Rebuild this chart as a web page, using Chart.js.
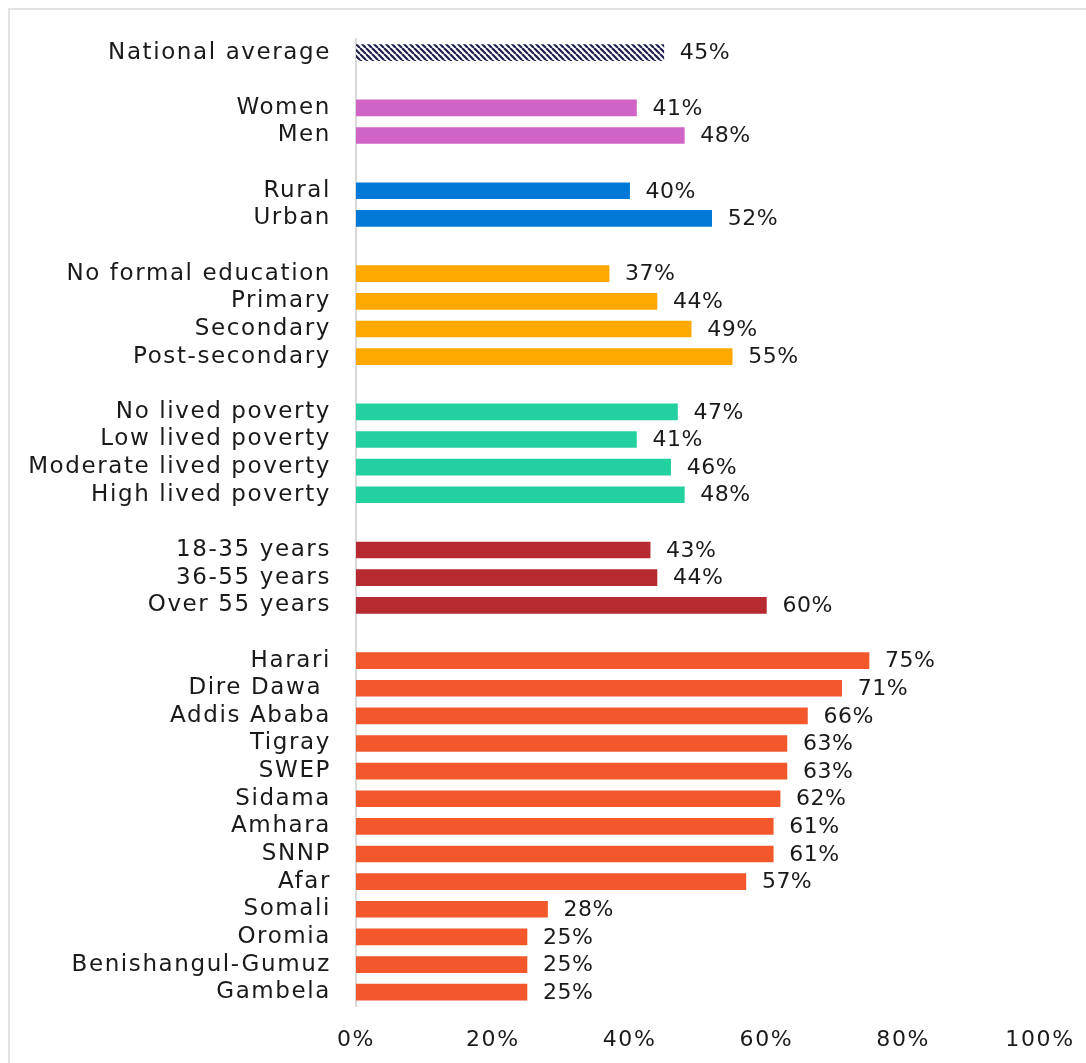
<!DOCTYPE html>
<html>
<head>
<meta charset="utf-8">
<script src="https://cdn.jsdelivr.net/npm/chart.js@4/dist/chart.umd.min.js"></script>
<style>
  html, body { margin: 0; padding: 0; background: #fff; overflow: hidden; }
  #frame { position: absolute; left: 8px; top: 8px; width: 1200px; height: 1200px; border: 2px solid #e2e2e2; }
  #myChart { position: absolute; left: 0; top: 0; }
</style>
</head>
<body>
<div id="frame"></div>
<canvas id="myChart" width="1086" height="1063"></canvas>
<script>
  // categories (blank entries are the gaps between groups)
  const labels = [
    "National average", "",
    "Women", "Men", "",
    "Rural", "Urban", "",
    "No formal education", "Primary", "Secondary", "Post-secondary", "",
    "No lived poverty", "Low lived poverty", "Moderate lived poverty", "High lived poverty", "",
    "18-35 years", "36-55 years", "Over 55 years", "",
    "Harari", "Dire Dawa ", "Addis Ababa", "Tigray", "SWEP", "Sidama", "Amhara",
    "SNNP", "Afar", "Somali", "Oromia", "Benishangul-Gumuz", "Gambela",
  ];
  const values = [
    45, null,
    41, 48, null,
    40, 52, null,
    37, 44, 49, 55, null,
    47, 41, 46, 48, null,
    43, 44, 60, null,
    75, 71, 66, 63, 63, 62, 61, 61, 57, 28, 25, 25, 25,
  ];
  const groups = [
    "avg", "",
    "gender", "gender", "",
    "loc", "loc", "",
    "edu", "edu", "edu", "edu", "",
    "pov", "pov", "pov", "pov", "",
    "age", "age", "age", "",
    "reg", "reg", "reg", "reg", "reg", "reg", "reg", "reg", "reg", "reg", "reg", "reg", "reg",
  ];
  const xTicks = [0, 20, 40, 60, 80, 100];

  // striped fill for the national average
  function stripes() {
    const c = document.createElement("canvas");
    c.width = 6; c.height = 6;
    const g = c.getContext("2d");
    g.fillStyle = "#ffffff";
    g.fillRect(0, 0, 6, 6);
    g.strokeStyle = "#1f1f4f";
    g.lineWidth = 2.2;
    g.beginPath();
    for (let k = -6; k <= 12; k += 6) {
      g.moveTo(k, 0);
      g.lineTo(k + 6, 6);
    }
    g.stroke();
    return g.createPattern(c, "repeat");
  }

  const palette = {
    avg: stripes(),
    gender: "#d063c6",
    loc: "#0078d7",
    edu: "#ffa800",
    pov: "#23d0a0",
    age: "#b82a32",
    reg: "#f2582b",
    "": "transparent",
  };

  const family = "'DejaVu Sans', sans-serif";

  // wider spacing for the axis text, closer to the original typeface
  const spacing = {
    id: "spacing",
    beforeDraw(chart) {
      chart.ctx.letterSpacing = "1.6px";
    },
  };

  const valueLabels = {
    id: "valueLabels",
    afterDatasetsDraw(chart) {
      const { ctx } = chart;
      const meta = chart.getDatasetMeta(0);
      ctx.save();
      ctx.letterSpacing = "0.5px";
      ctx.font = `22px ${family}`;
      ctx.fillStyle = "#1a1a1a";
      ctx.textAlign = "left";
      ctx.textBaseline = "middle";
      meta.data.forEach((bar, i) => {
        const v = values[i];
        if (v === null) return;
        ctx.fillText(v + "%", bar.x + 16, bar.y + 1);
      });
      ctx.restore();
    },
  };

  const ctx = document.getElementById("myChart");
  // eslint-disable-next-line no-unused-vars
  const myChart = new Chart(ctx, {
    type: "bar",
    data: {
      labels: labels,
      datasets: [
        {
          data: values,
          backgroundColor: groups.map((g) => palette[g]),
          barThickness: 16,
        },
      ],
    },
    options: {
      indexAxis: "y",
      responsive: false,
      animation: false,
      layout: { padding: { top: 38, right: 46, left: 0, bottom: 0 } },
      plugins: {
        legend: { display: false },
        tooltip: { enabled: false },
      },
      scales: {
        x: {
          min: 0,
          max: 100,
          afterBuildTicks: (s) => { s.ticks = xTicks.map((v) => ({ value: v })); },
          grid: { display: false, drawTicks: false },
          border: { display: false },
          ticks: {
            padding: 21,
            color: "#1a1a1a",
            font: { family: family, size: 22 },
            callback: (v) => v + "%",
          },
          afterFit: (s) => { s.height = 57; s.paddingLeft = 0; s.paddingRight = 0; },
        },
        y: {
          grid: { display: false, drawTicks: false },
          border: { display: true, color: "#d9d9d9", width: 2 },
          ticks: {
            padding: 25,
            color: "#1a1a1a",
            font: { family: family, size: 23 },
            autoSkip: false,
          },
          afterFit: (s) => { s.width = 356; },
        },
      },
    },
    plugins: [spacing, valueLabels],
  });
</script>
</body>
</html>
